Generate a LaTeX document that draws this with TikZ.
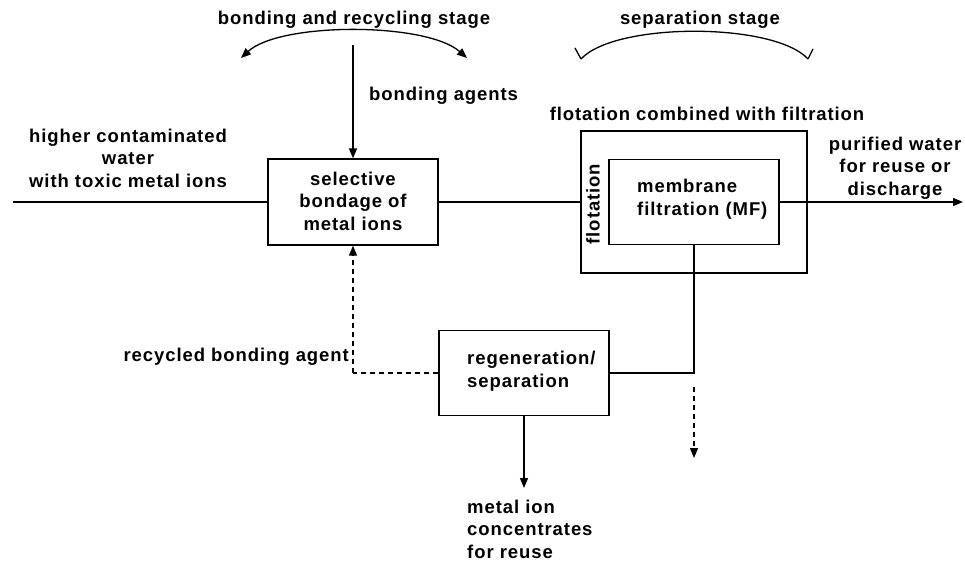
\documentclass[tikz,border=0pt]{standalone}
\usepackage{fontspec}
\setmainfont{Liberation Sans}[LetterSpace=5]
\usetikzlibrary{arrows.meta}
\begin{document}
\begin{tikzpicture}[x=1pt,y=-1pt,
  every node/.style={font=\bfseries\fontsize{18.5}{22.5}\selectfont, inner sep=0pt},
  ln/.style={line width=1.3pt},
  arr/.style={ln, -{Triangle[length=10pt,width=8pt]}},
  dsh/.style={ln, dash pattern=on 5pt off 4pt},
  lbl/.style={align=center},
  lbll/.style={align=left}]
\useasboundingbox (0,0) rectangle (965,562);
% boxes
\node[draw, line width=1.3pt, minimum width=170pt, minimum height=86pt] (sel) at (353,202) {};
\node[lbl] (selt) at (353,201) {selective\\bondage of\\metal ions};
\node[draw, line width=1.3pt, minimum width=226pt, minimum height=142pt] (flo) at (694,202) {};
\node[draw, line width=1.3pt, minimum width=170pt, minimum height=85pt] (mf) at (694,202) {};
\node[lbll, anchor=west] (mft) at (637,199) {membrane\\filtration (MF)};
\node[rotate=90] (flot) at (593,204) {flotation};
\node[draw, line width=1.3pt, minimum width=170pt, minimum height=85pt] (reg) at (524,373) {};
\node[lbll, anchor=west] (regt) at (467,371) {regeneration/\\separation};
% labels
\node[lbl] (stage1) at (354,20) {bonding and recycling stage};
\node[lbl] (stage2) at (700,20) {separation stage};
\node[anchor=west] (bagent) at (369,96) {bonding agents};
\node[lbl] (flocomb) at (707,114) {flotation combined with filtration};
\node[lbl] (inlab) at (128,158) {higher contaminated\\water\\with toxic metal ions};
\node[lbl] (outlab) at (895,168) {purified water\\for reuse or\\discharge};
\node[anchor=east] (reclab) at (349,357) {recycled bonding agent};
\node[lbll, anchor=west] (metlab) at (467,529) {metal ion\\concentrates\\for reuse};
% coordinates
\coordinate (inS) at (13,202);
\coordinate (outE) at (963,202);
\coordinate (bagT) at (353,45);
\coordinate (corner1) at (694,373);
\coordinate (corner2) at (353,373);
\coordinate (metE) at (524,488);
\coordinate (dS) at (694,387);
\coordinate (dE) at (694,458);
\coordinate (a1L) at (241,58);
\coordinate (a1R) at (467,58);
\coordinate (a2L) at (581,59);
\coordinate (a2R) at (808,59);
% connectors
\draw[ln] (inS) -- (sel.west);
\draw[arr] (bagT) -- (sel.north);
\draw[ln] (sel.east) -- (flo.west);
\draw[arr] (mf.east) -- (outE);
\draw[ln] (mf.south) -- (corner1) -- (reg.east);
\draw[dsh] (reg.west) -- (corner2);
\draw[dsh, -{Triangle[length=10pt,width=8pt]}] (corner2) -- (sel.south);
\draw[arr] (reg.south) -- (metE);
\draw[dsh, -{Triangle[length=10pt,width=8pt]}] (dS) -- (dE);
% stage arcs
\draw[ln, {Triangle[length=10pt,width=8pt]}-{Triangle[length=10pt,width=8pt]}] (a1L) .. controls (280,22) and (426,22) .. (a1R);
\draw[ln] (a2L) .. controls (615,22) and (774,22) .. (a2R);
\draw[ln] (575,48) -- (a2L);
\draw[ln] (a2R) -- (813,49);
\end{tikzpicture}
\end{document}
